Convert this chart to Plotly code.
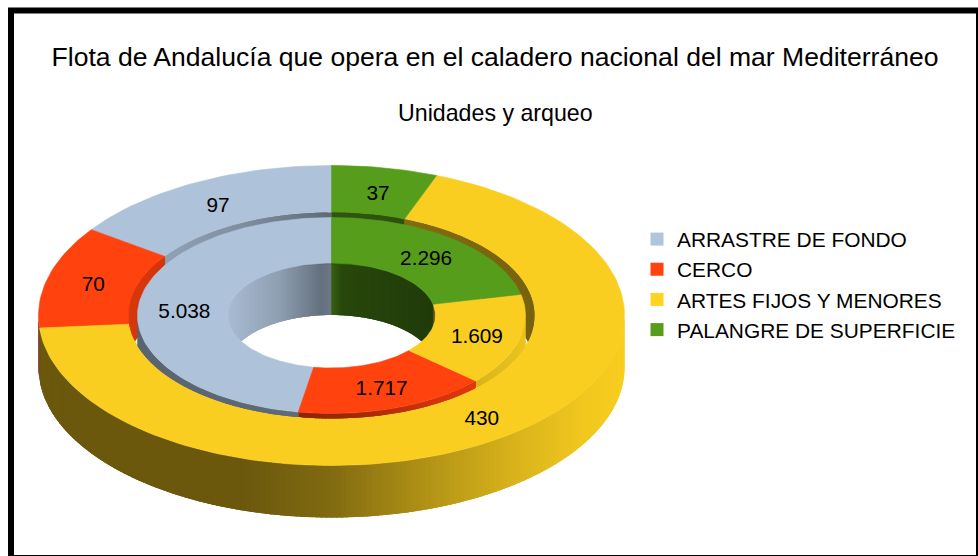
import numpy as np
import plotly.graph_objects as go

# ---- data ----
categories = ["ARRASTRE DE FONDO", "CERCO", "ARTES FIJOS Y MENORES", "PALANGRE DE SUPERFICIE"]
unidades = [97, 70, 430, 37]        # outer ring
arqueo = [5038, 1717, 1609, 2296]   # inner ring
colors = ["#aec2da", "#ff420e", "#f9ce20", "#579d1c"]
legend_colors = ["#b0c4de", "#ff420e", "#ffd320", "#579d1c"]
title_text = "Flota de Andalucía que opera en el caladero nacional del mar Mediterráneo"
subtitle_text = "Unidades y arqueo"

# ---- projection of the flattened 3D ring (pixel-space axes) ----
CX, CY, DEPTH = 331.5, 315.5, 52
R0 = (293, 150)      # outer ring, outer rim
R1 = (203, 103)      # outer ring, inner rim
R2 = (194, 98)       # inner ring, outer rim
R3 = (104, 52.5)     # inner ring, hole
LABEL_DROP = 3.3
LABEL_SHIFT = 1.3
FONT = "Liberation Sans"


def rgb(c):
    return np.array([int(c[i:i + 2], 16) for i in (1, 3, 5)], float)


def shade(c, m):
    v = np.clip(rgb(c) * m, 0, 255).astype(int)
    return f"rgb({v[0]},{v[1]},{v[2]})"


def pt(a, r, d=0.0):
    a = np.radians(a)
    return CX - r[0] * np.sin(a), CY - r[1] * np.cos(a) + d


def spans(vals):
    edges = np.concatenate([[0], np.cumsum(vals) / np.sum(vals) * 360])
    return list(zip(edges[:-1], edges[1:]))


def poly(xs, ys, color, width=0.6):
    return go.Scatter(x=list(xs), y=list(ys), mode="lines", fill="toself", fillcolor=color,
                      line=dict(color=color, width=width), hoverinfo="skip", showlegend=False)


def arc(a0, a1):
    return np.linspace(a0, a1, max(3, int(abs(a1 - a0) / 1.5) + 2))


def top(a0, a1, ro, ri, color):
    s = arc(a0, a1)
    xo, yo = pt(s, ro)
    xi, yi = pt(s[::-1], ri)
    return poly(np.r_[xo, xi, xo[0]], np.r_[yo, yi, yo[0]], color)


def wall(a0, a1, r, base, mfun, limit, keep):
    """Extruded side of an elliptical rim, cut into overlapping shaded quads."""
    out = []
    step = 1.0
    overlap = 1.5
    s = np.arange(a0, a1, step)
    s = np.r_[s, a1]
    for p, q in zip(s[:-1], s[1:]):
        mid = (p + q) / 2
        if not keep(mid):
            continue
        # the strip runs on past its end, the next strip paints over the overlap
        pts = np.linspace(p, min(q + overlap, a1), 4)
        pts = np.array([a for a in pts if keep(a)] or [p, q])
        xs, ys = pt(pts, r)
        ds = np.array([limit(a) for a in pts])
        u = (1 - np.sin(np.radians(mid))) / 2
        c = shade(base, mfun(u))
        out.append(poly(np.r_[xs, xs[::-1], xs[0]], np.r_[ys, (ys + ds)[::-1], ys[0]], c, width=0))
    return out


near = lambda a: np.cos(np.radians(a)) < 0
far = lambda a: np.cos(np.radians(a)) > 0


def far_limit(r):
    return lambda a: min(DEPTH, 2 * r[1] * max(np.cos(np.radians(a)), 0))


def near_limit_in(r_in, r_out):
    def f(a):
        s, c = np.sin(np.radians(a)), np.cos(np.radians(a))
        v = r_out[1] * np.sqrt(max(1 - (r_in[0] * s / r_out[0]) ** 2, 0)) - r_in[1] * (-c)
        return float(np.clip(v, 0, DEPTH))
    return f


outer_spans = spans(unidades)
inner_spans = spans(arqueo)

# shading profiles along the left-to-right position u
out_m = lambda u: np.interp(u, [0, .35, .5, .65, .8, .93, 1], [.43, .43, .52, .70, .86, .97, 1.0])
hole_m = lambda u: np.interp(u, [0, .25, .45, .5, .55, 1], [.97, .82, .58, .62, .46, .38])
groove_m = lambda u: np.interp(u, [0, .12, .3, .5, 1], [.85, .82, .72, .55, .48])
rim_m = lambda u: np.interp(u, [0, .4, .55, .75, 1], [.52, .55, .62, .8, .95])

traces = []
for (a0, a1), c in zip(outer_spans, colors):
    traces += wall(a0, a1, R0, c, out_m, lambda a: DEPTH, near)
for (a0, a1), c in zip(inner_spans, colors):
    traces += wall(a0, a1, R3, c, hole_m, far_limit(R3), far)
for (a0, a1), c in zip(outer_spans, colors):
    traces.append(top(a0, a1, R0, R1, c))
for (a0, a1), c in zip(outer_spans, colors):
    traces += wall(a0, a1, R1, c, groove_m, far_limit(R1), far)
for (a0, a1), c in zip(inner_spans, colors):
    traces += wall(a0, a1, R2, c, rim_m, near_limit_in(R2, R1), near)
for (a0, a1), c in zip(inner_spans, colors):
    traces.append(top(a0, a1, R2, R3, c))


def thousands(v):
    return f"{v:,}".replace(",", ".")


def labels(vals, ro, ri):
    mids = [(p + q) / 2 for p, q in spans(vals)]
    rm = ((ro[0] + ri[0]) / 2, (ro[1] + ri[1]) / 2)
    xs, ys = pt(np.array(mids), rm, LABEL_DROP)
    return go.Scatter(x=xs + LABEL_SHIFT, y=ys, mode="text", text=[thousands(v) for v in vals],
                      textposition="middle center", textfont=dict(family=FONT, size=20.8, color="#000000"),
                      hoverinfo="skip", showlegend=False)


traces.append(labels(unidades, R0, R1))
traces.append(labels(arqueo, R2, R3))

# native legend entries
for name, c in zip(categories, legend_colors):
    traces.append(go.Scatter(x=[None], y=[None], mode="markers", name=name, legendgroup=name,
                             marker=dict(symbol="square", size=13, color=c)))

fig = go.Figure(traces)
fig.update_layout(
    width=978, height=556, autosize=False,
    margin=dict(l=0, r=0, t=0, b=0, pad=0),
    paper_bgcolor="white", plot_bgcolor="white",
    xaxis=dict(range=[0, 978], visible=False, fixedrange=True),
    yaxis=dict(range=[556, 0], visible=False, fixedrange=True),
    title=dict(text=title_text, x=495 / 978, xanchor="center", y=1 - 57 / 556, yanchor="middle",
               font=dict(family=FONT, size=26.55, color="#000000")),
    annotations=[dict(text=subtitle_text, x=495, y=113, xref="x", yref="y", showarrow=False,
                      font=dict(family=FONT, size=23.2, color="#000000"))],
    legend=dict(x=644 / 978, y=1 - 219 / 556, xanchor="left", yanchor="top",
                font=dict(family=FONT, size=20.9, color="#000000"),
                bgcolor="rgba(0,0,0,0)", tracegroupgap=0, traceorder="grouped",
                itemwidth=30, indentation=-7, itemclick=False, itemdoubleclick=False),
    shapes=[dict(type="rect", xref="x", yref="y", x0=11, y0=10.5, x1=979, y1=558,
                 line=dict(color="#000000", width=6), fillcolor="rgba(0,0,0,0)", layer="below")],
)
fig.write_html("out.html", config=dict(displayModeBar=False),
               post_script="document.body.style.margin='0';")
